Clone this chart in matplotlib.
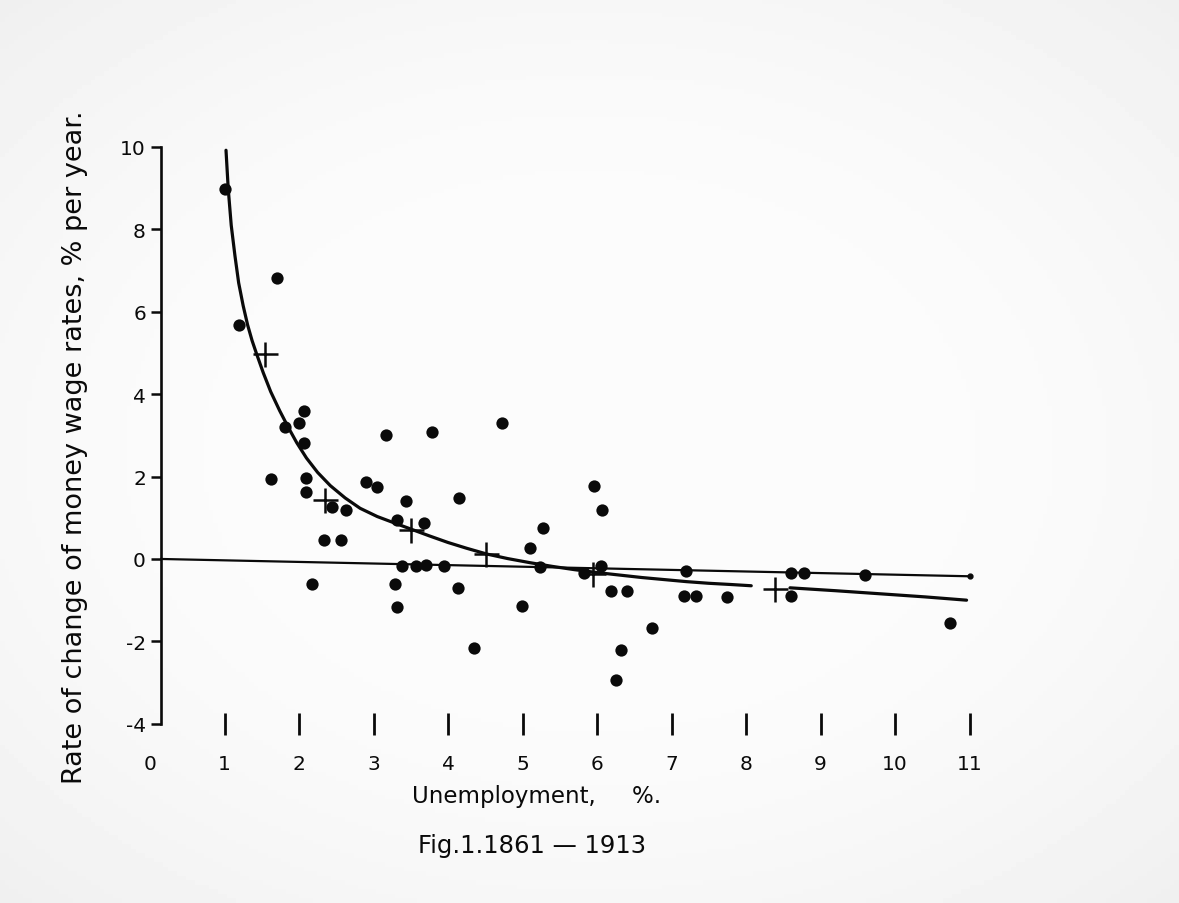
import numpy as np
import matplotlib
matplotlib.use("Agg")
import matplotlib.pyplot as plt

# ---- data ----
unemp = [1.00, 1.20, 1.71, 2.07, 2.00, 1.81, 2.07, 1.62, 2.10, 2.09, 2.44, 2.63,
         2.90, 3.05, 2.33, 2.56, 2.17, 3.17, 3.79, 4.73, 3.44, 4.15, 3.32, 3.68,
         3.38, 3.57, 3.71, 3.95, 3.29, 3.32, 4.14, 4.35, 4.99, 5.10, 5.28, 5.23,
         5.96, 6.07, 6.06, 5.83, 6.19, 6.40, 6.32, 6.25, 6.74, 7.20, 7.17, 7.33,
         7.74, 8.61, 8.78, 8.60, 9.60, 10.74]
wage = [8.98, 5.68, 6.82, 3.60, 3.29, 3.20, 2.81, 1.93, 1.97, 1.63, 1.25, 1.20,
        1.88, 1.74, 0.47, 0.47, -0.61, 3.02, 3.07, 3.29, 1.40, 1.48, 0.95, 0.87,
        -0.18, -0.16, -0.15, -0.18, -0.61, -1.16, -0.70, -2.17, -1.15, 0.26, 0.75, -0.20,
        1.76, 1.19, -0.17, -0.33, -0.77, -0.77, -2.20, -2.94, -1.67, -0.30, -0.91, -0.91,
        -0.92, -0.35, -0.35, -0.91, -0.39, -1.55]

avg_x = [1.54, 2.35, 3.50, 4.51, 5.95, 8.39]
avg_y = [4.98, 1.43, 0.71, 0.12, -0.36, -0.72]

curve1_x = [1.02, 1.05, 1.09, 1.14, 1.19, 1.25, 1.31, 1.37, 1.43, 1.52, 1.62, 1.74,
            1.86, 1.97, 2.10, 2.25, 2.42, 2.62, 2.82, 3.05, 3.30, 3.51, 3.75, 4.00,
            4.25, 4.52, 4.80, 5.10, 5.40, 5.70, 6.00, 6.30, 6.60, 6.90, 7.20, 7.50,
            7.80, 8.07]
curve1_y = [9.92, 8.98, 8.10, 7.36, 6.70, 6.15, 5.68, 5.30, 4.98, 4.52, 4.06, 3.60,
            3.18, 2.82, 2.45, 2.10, 1.78, 1.48, 1.23, 1.03, 0.86, 0.72, 0.56, 0.40,
            0.26, 0.12, 0.01, -0.09, -0.18, -0.26, -0.33, -0.39, -0.45, -0.50, -0.55, -0.59,
            -0.62, -0.65]
curve2_x = [8.59, 9.20, 9.84, 10.40, 10.96]
curve2_y = [-0.70, -0.77, -0.85, -0.92, -1.00]

line_x = [0.15, 11.0]
line_y = [0.0, -0.42]

xticks = list(range(0, 12))
yticks = [-4, -2, 0, 2, 4, 6, 8, 10]

# ---- figure ----
W, H = 1179, 904
fig = plt.figure(figsize=(W / 100, H / 100), dpi=100)
fig.patch.set_facecolor("#f4f4f4")

# subtle scanned-paper vignette background
bg = fig.add_axes([0, 0, 1, 1], zorder=-10)
yy, xx = np.mgrid[-1:1:200j, -1:1:260j]
rr = np.sqrt((xx * 0.9) ** 2 + (yy * 0.95) ** 2)
shade = 0.985 - 0.07 * np.clip(rr - 0.55, 0, None) ** 1.5
bg.imshow(shade, cmap="gray", vmin=0, vmax=1, aspect="auto", extent=[0, 1, 0, 1])
bg.axis("off")

ax = fig.add_axes([0.1146, 0.1823, 0.7267, 0.6677])
ax.set_facecolor("none")
ax.set_xlim(-0.2, 11.3)
ax.set_ylim(-4.35, 10.3)

ink = "#0a0a0a"

ax.plot(line_x, line_y, color=ink, lw=1.6, zorder=2)
ax.plot(line_x[-1:], line_y[-1:], "o", color=ink, ms=3.5, zorder=2)
ax.plot(curve1_x, curve1_y, color=ink, lw=2.3, zorder=3,
        solid_capstyle="round", solid_joinstyle="round")
ax.plot(curve2_x, curve2_y, color=ink, lw=2.3, zorder=3,
        solid_capstyle="round", solid_joinstyle="round")
ax.scatter(unemp, wage, s=78, color=ink, zorder=4, linewidths=0)
ax.plot(avg_x, avg_y, "+", color=ink, ms=18, mew=1.8, zorder=5)

# spines / axes
for s in ["top", "right"]:
    ax.spines[s].set_visible(False)
ax.spines["left"].set_position(("data", 0.15))
ax.spines["left"].set_bounds(-4, 10)
ax.spines["left"].set_linewidth(1.9)
ax.spines["left"].set_color(ink)
ax.spines["bottom"].set_position(("data", -4))
ax.spines["bottom"].set_visible(False)

ax.set_yticks(yticks)
ax.set_yticklabels([str(v) for v in yticks])
ax.set_xticks(xticks)
ax.set_xticklabels([str(v) for v in xticks])
ax.tick_params(axis="y", direction="out", length=7, width=1.8, color=ink,
               labelsize=14.5, pad=4, labelcolor=ink)
ax.tick_params(axis="x", direction="inout", length=16, width=2.0, color=ink,
               labelsize=14.5, pad=14, labelcolor=ink)
ax.xaxis.get_major_ticks()[0].tick1line.set_visible(False)

fig.text(75 / W, 1 - 447 / H, "Rate of change of money wage rates, % per year.",
         rotation=90, ha="center", va="center", fontsize=19.5, color=ink)
fig.text(537 / W, 1 - 797 / H, "Unemployment,     %.", ha="center", va="center",
         fontsize=16.5, color=ink)
fig.text(532 / W, 1 - 846 / H, "Fig.1.1861 \u2014 1913", ha="center", va="center",
         fontsize=17.5, color=ink)

fig.savefig("out.png", dpi=100, facecolor=fig.get_facecolor())
